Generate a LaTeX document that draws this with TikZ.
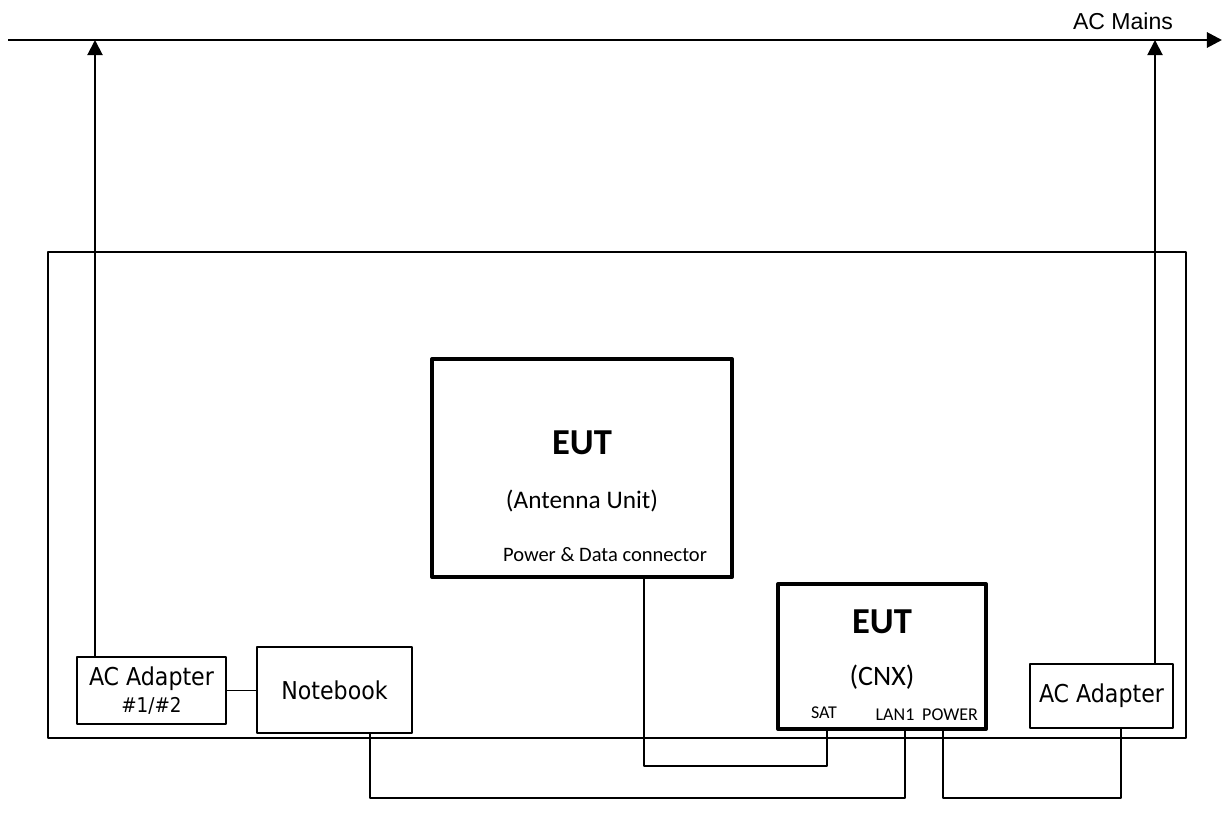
\documentclass[tikz,border=0pt]{standalone}
\usepackage{fontspec}
\setmainfont{Carlito}
\newfontfamily\arialfont{Liberation Sans}
\newfontfamily\tahomafont{DejaVu Sans Condensed}
\usetikzlibrary{arrows.meta}
\tikzset{
  unit/.style={draw,line width=1.4pt,inner sep=0pt,font=\tahomafont\fontsize{17.5pt}{21pt}\selectfont},
  eut/.style={draw,line width=2.8pt,inner sep=0pt},
  port/.style={font=\fontsize{12.8pt}{14pt}\selectfont,inner sep=0pt},
  wire/.style={line width=1pt}
}
\begin{document}
\begin{tikzpicture}[x=0.7113pt,y=-0.7113pt,line join=round,>={Triangle[length=10.7pt,width=10.7pt]}]
	\useasboundingbox (0,0) rectangle (1228,828);
	% test table
	\draw[line width=1.4pt] (48,252) rectangle (1186,738);
	% mains
	\coordinate (mainsW) at (8,40);
	\coordinate (mainsE) at (1222,40);
	\coordinate (mainsL) at (95,40);
	\coordinate (mainsR) at (1155,40);
	\draw[->,line width=2pt] (mainsW) -- (mainsE);
	\node[font=\arialfont\fontsize{16.4pt}{19pt}\selectfont] (mains) at (1123,21) {AC Mains};
	% units
	\node[unit,minimum width=106pt,minimum height=47.7pt,align=center] (adp1) at (151.5,690.5)
		{AC Adapter\\[-2pt]{\fontsize{14.5pt}{17pt}\selectfont\#1/\#2}};
	\node[unit,minimum width=110.3pt,minimum height=61.2pt] (nb) at (334.5,690) {Notebook};
	\node[unit,minimum width=101.7pt,minimum height=45.5pt] (adp2) at (1101.5,696) {AC Adapter};
	\node[eut,minimum width=213.4pt,minimum height=155.1pt] (ant) at (582,468) {};
	\node[eut,minimum width=148pt,minimum height=103.1pt] (cnx) at (882,656.5) {};
	% texts of the EUTs
	\node[font=\bfseries\fontsize{26pt}{28pt}\selectfont] (antname) at (582,443) {EUT};
	\node[font=\fontsize{18pt}{21pt}\selectfont] (anttype) at (582,501) {(Antenna Unit)};
	\node[font=\fontsize{14.6pt}{17pt}\selectfont] (antconn) at (605,555) {Power \& Data connector};
	\node[font=\bfseries\fontsize{26pt}{28pt}\selectfont] (cnxname) at (882,622) {EUT};
	\node[font=\fontsize{20pt}{23pt}\selectfont] (cnxtype) at (882,677) {(CNX)};
	\node[port] (sat) at (824,713) {SAT};
	\node[port] (lan1) at (895,715) {LAN1};
	\node[port] (pwr) at (950,715) {POWER};
	% ports
	\coordinate (antp) at (644,577);
	\coordinate (satp) at (827,729);
	\coordinate (lan1p) at (905,729);
	\coordinate (pwrp) at (943,729);
	\coordinate (nbp) at (370,733);
	\coordinate (adp2p) at (1121,728);
	% connections
	\draw[->,line width=1.4pt] (mainsL |- adp1.north) -- (mainsL);
	\draw[->,line width=1.4pt] (mainsR |- adp2.north) -- (mainsR);
	\draw[line width=1.4pt] (adp1.east) -- (adp1.east -| nb.west);
	\draw[wire] (antp) -- ++(0,189) -| (satp);
	\draw[wire] (nbp) -- ++(0,65) -| (lan1p);
	\draw[wire] (pwrp) -- ++(0,69) -| (adp2p);
\end{tikzpicture}
\end{document}
